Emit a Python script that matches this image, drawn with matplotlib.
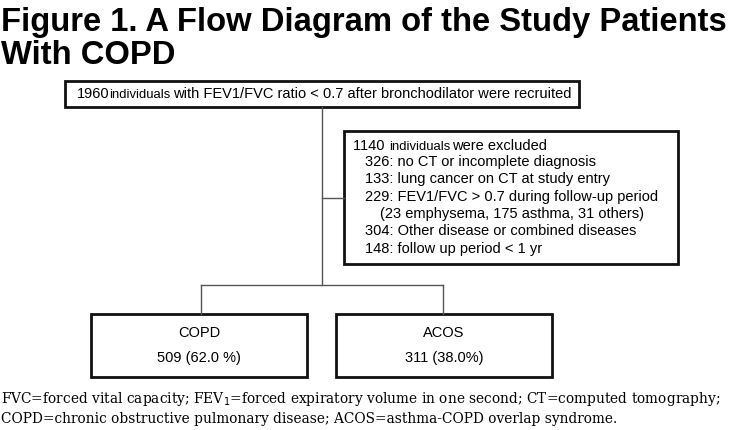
import matplotlib.pyplot as plt
from matplotlib.patches import Rectangle

# chart content
title_lines = ["Figure 1. A Flow Diagram of the Study Patients", "With COPD"]
n_recruited = 1960
recruit_rest = "with FEV1/FVC ratio < 0.7 after bronchodilator were recruited"
n_excluded = 1140
excl_counts = [326, 133, 229, 304, 148]
excl_reasons = ["no CT or incomplete diagnosis",
                "lung cancer on CT at study entry",
                "FEV1/FVC > 0.7 during follow-up period",
                "Other disease or combined diseases",
                "follow up period < 1 yr"]
fev_detail = "(23 emphysema, 175 asthma, 31 others)"
groups = ["COPD", "ACOS"]
group_n = [509, 311]
group_pct = ["62.0 %", "38.0%"]
footnote = ["FVC=forced vital capacity; FEV$_1$=forced expiratory volume in one second; CT=computed tomography;",
            "COPD=chronic obstructive pulmonary disease; ACOS=asthma-COPD overlap syndrome."]

fig = plt.figure(figsize=(7.3, 4.3), dpi=100)
ax = fig.add_axes([0, 0, 1, 1])
ax.set_xlim(0, 730)
ax.set_ylim(430, 0)
ax.axis('off')
fig.canvas.draw()
rend = fig.canvas.get_renderer()

sans = 'Liberation Sans'


def pieces(x, y, parts):
    # draw text parts one after another on the same baseline
    for txt, size, gap in parts:
        t = ax.text(x, y, txt, fontsize=size, family=sans, va='baseline', ha='left')
        bb = t.get_window_extent(rend)
        x += bb.width + gap


def box(x0, y0, x1, y1):
    ax.add_patch(Rectangle((x0, y0), x1 - x0, y1 - y0, fill=False,
                           lw=2.0, ec='#111111'))


# title
for i, line in enumerate(title_lines):
    ax.text(1, 31 + i * 33, line, fontsize=23.6, fontweight='bold',
            family=sans, va='baseline', ha='left')

# connectors
lc = '#555555'
ax.plot([322, 322], [107, 285], color=lc, lw=1)
ax.plot([322, 344], [198, 198], color=lc, lw=1)
ax.plot([201, 443], [285, 285], color=lc, lw=1)
ax.plot([201, 201], [285, 314], color=lc, lw=1)
ax.plot([443, 443], [285, 314], color=lc, lw=1)

# top box
box(65, 81, 579, 107)
pieces(77, 98.5, [(str(n_recruited), 10.5, 0), ("individuals", 9.4, 2.5),
                  (recruit_rest, 10.5, 0)])

# exclusion box
box(344, 131, 678, 264)
pieces(353, 149.5, [(str(n_excluded) + " ", 10.5, 0), ("individuals", 9.4, 2.5),
                    ("were excluded", 10.5, 0)])
rows = [f"{c}: {r}" for c, r in zip(excl_counts, excl_reasons)]
rows.insert(3, fev_detail)
for i, r in enumerate(rows):
    x = 380 if r.startswith("(") else 365
    ax.text(x, 162 + i * 17.3, r, fontsize=10.5, family=sans, va='center', ha='left')

# group boxes
gx = [(91, 307), (336, 552)]
for (x0, x1), g, n, p in zip(gx, groups, group_n, group_pct):
    box(x0, 314, x1, 377)
    cx = (x0 + x1) / 2
    ax.text(cx, 333, g, fontsize=10.5, family=sans, ha='center', va='center')
    ax.text(cx, 358, f"{n} ({p})", fontsize=10.5, family=sans, ha='center', va='center')

# footnote
for i, line in enumerate(footnote):
    ax.text(1, 403 + i * 20, line, fontsize=9.9, family='DejaVu Serif',
            va='baseline', ha='left')

fig.savefig('out.png', dpi=100)
